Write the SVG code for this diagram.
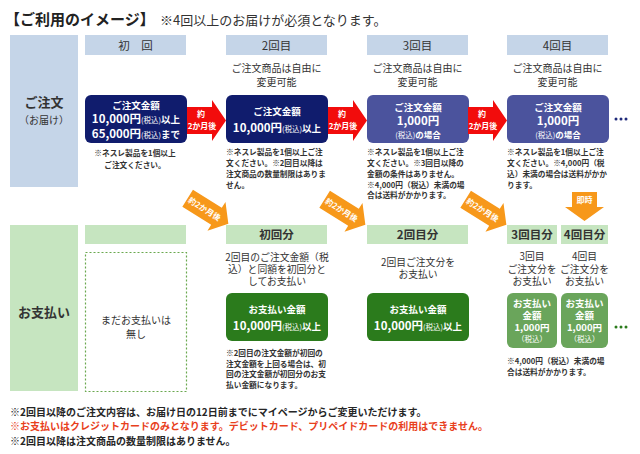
<svg xmlns="http://www.w3.org/2000/svg" xmlns:xlink="http://www.w3.org/1999/xlink" width="640" height="454" viewBox="0 0 640 454">
<style>
text{font-family:"Noto Sans CJK JP","Noto Sans",sans-serif;}
.hb{fill:#c5d5e8;}
.hg{fill:#c6e5c0;}
.ht{font-size:11.5px;fill:#333;text-anchor:middle;}
.hgt{font-size:11.5px;fill:#333;text-anchor:middle;font-weight:bold;}
.lab{font-size:13px;fill:#333;text-anchor:middle;font-weight:bold;}
.sub{font-size:10px;fill:#333;text-anchor:middle;}
.bt{fill:#fff;text-anchor:middle;font-weight:bold;font-size:9.5px;}
.big{font-size:11.5px;}
.sm{font-size:7.5px;font-weight:normal;}
.note{font-size:7.7px;fill:#333;font-weight:bold;}
.nc{text-anchor:middle;}
.desc{font-size:9.8px;fill:#333;text-anchor:middle;}
.ra{fill:#f20c0c;}
.oa{fill:#f7981a;}
.at{fill:#fff;font-size:8px;font-weight:bold;text-anchor:middle;}
.navy{fill:#101c6d;}
.blue{fill:#4b539d;}
.dg{fill:#2b7b1c;}
.lg{fill:#6aa55b;}
.foot{font-size:10px;font-weight:bold;fill:#262626;}
</style>
<defs>
<g id="oarrow">
<path d="M-24,-10 H10 V-17 L24,0 L10,17 V10 H-24 Z" class="oa"/>
<text x="-4" y="3" class="at">約2か月後</text>
</g>
</defs>
<rect width="640" height="454" fill="#fff"/>

<g id="title">
<text x="5" y="25" font-size="15" font-weight="bold" fill="#222">【ご利用のイメージ】</text>
<text x="160" y="25" font-size="13" fill="#333">※4回以上のお届けが必須となります。</text>
</g>

<g id="label-order">
<rect x="10" y="35" width="68" height="152" class="hb"/>
<text x="44" y="107" class="lab">ご注文</text>
<text x="44" y="124" class="sub" font-size="9">（お届け）</text>
</g>
<g id="label-pay">
<rect x="10" y="225" width="68" height="166" class="hg"/>
<text x="44" y="317" class="lab">お支払い</text>
</g>

<g id="head-1"><rect x="85" y="35" width="101" height="20" class="hb"/><text x="135.5" y="50" class="ht">初　回</text></g>
<g id="head-2"><rect x="226" y="35" width="101" height="20" class="hb"/><text x="276.5" y="50" class="ht">2回目</text></g>
<g id="head-3"><rect x="367" y="35" width="101" height="20" class="hb"/><text x="417.5" y="50" class="ht">3回目</text></g>
<g id="head-4"><rect x="507" y="35" width="101" height="20" class="hb"/><text x="557.5" y="50" class="ht">4回目</text></g>

<g id="free-2"><text x="276.5" y="72" class="sub">ご注文商品は自由に</text><text x="276.5" y="86" class="sub">変更可能</text></g>
<g id="free-3"><text x="417.5" y="72" class="sub">ご注文商品は自由に</text><text x="417.5" y="86" class="sub">変更可能</text></g>
<g id="free-4"><text x="557.5" y="72" class="sub">ご注文商品は自由に</text><text x="557.5" y="86" class="sub">変更可能</text></g>

<g id="order-1">
<rect x="85" y="95" width="102" height="48" rx="6" class="navy"/>
<text x="136" y="108.5" class="bt">ご注文金額</text>
<text x="136" y="123" class="bt"><tspan class="big">10,000円</tspan><tspan class="sm">(税込)</tspan>以上</text>
<text x="136" y="137.5" class="bt"><tspan class="big">65,000円</tspan><tspan class="sm">(税込)</tspan>まで</text>
</g>
<g id="order-2">
<rect x="226" y="95" width="102" height="48" rx="6" class="navy"/>
<text x="277" y="115" class="bt">ご注文金額</text>
<text x="277" y="132" class="bt"><tspan class="big">10,000円</tspan><tspan class="sm">(税込)</tspan>以上</text>
</g>
<g id="order-3">
<rect x="367" y="95" width="102" height="48" rx="6" class="blue"/>
<text x="418" y="110.5" class="bt">ご注文金額</text>
<text x="418" y="125" class="bt big">1,000円</text>
<text x="418" y="138" class="bt"><tspan class="sm">(税込)</tspan><tspan font-size="8.5">の場合</tspan></text>
</g>
<g id="order-4">
<rect x="507" y="95" width="102" height="48" rx="6" class="blue"/>
<text x="558" y="110.5" class="bt">ご注文金額</text>
<text x="558" y="125" class="bt big">1,000円</text>
<text x="558" y="138" class="bt"><tspan class="sm">(税込)</tspan><tspan font-size="8.5">の場合</tspan></text>
</g>
<g id="more-order" fill="#1f2a7a"><circle cx="616" cy="119" r="1.5"/><circle cx="621" cy="119" r="1.5"/><circle cx="626" cy="119" r="1.5"/></g>

<g id="note-1" class="note">
<text x="135" y="156" class="nc">※ネスレ製品を1個以上</text>
<text x="135" y="168" class="nc">ご注文ください。</text>
</g>
<g id="note-2" class="note">
<text x="226" y="155">※ネスレ製品を1個以上ご注</text>
<text x="226" y="166">文ください。※2回目以降は</text>
<text x="226" y="177">注文商品の数量制限はありま</text>
<text x="226" y="188">せん。</text>
</g>
<g id="note-3" class="note">
<text x="367" y="155">※ネスレ製品を1個以上ご注</text>
<text x="367" y="166">文ください。※3回目以降の</text>
<text x="367" y="177">金額の条件はありません。</text>
<text x="367" y="188">※4,000円（税込）未満の場</text>
<text x="367" y="198">合は送料がかかります。</text>
</g>
<g id="note-4" class="note">
<text x="507" y="155">※ネスレ製品を1個以上ご注</text>
<text x="507" y="166">文ください。※4,000円（税</text>
<text x="507" y="177">込）未満の場合は送料がかか</text>
<text x="507" y="188">ります。</text>
</g>

<g id="connectors">
<g><path d="M187,107 H212 V100 L226,120.5 L212,141 V134 H187 Z" class="ra"/><text x="201" y="117" class="at">約</text><text x="202" y="129" class="at">2か月後</text></g>
<g><path d="M328,107 H353 V100 L367,120.5 L353,141 V134 H328 Z" class="ra"/><text x="342" y="117" class="at">約</text><text x="343" y="129" class="at">2か月後</text></g>
<g><path d="M468,107 H493 V100 L507,120.5 L493,141 V134 H468 Z" class="ra"/><text x="482" y="117" class="at">約</text><text x="483" y="129" class="at">2か月後</text></g>
<use xlink:href="#oarrow" transform="translate(208,211) rotate(32)"/>
<use xlink:href="#oarrow" transform="translate(345,212) rotate(32)"/>
<use xlink:href="#oarrow" transform="translate(486,212) rotate(32)"/>
<g><path d="M572,192 H597 V207 H604 L584.5,221 L565,207 H572 Z" class="oa"/><text x="584.5" y="203" class="at">即時</text></g>
</g>

<g id="pay-0">
<rect x="85" y="225" width="101" height="19" class="hg"/>
<rect x="85.5" y="252.5" width="101" height="139" fill="none" stroke="#6aa84f" stroke-width="1.2" stroke-dasharray="2,2"/>
<text x="136" y="324" class="sub">まだお支払いは</text>
<text x="136" y="338" class="sub">無し</text>
</g>
<g id="pay-1">
<rect x="226" y="225" width="101" height="19" class="hg"/>
<text x="276.5" y="239" class="hgt">初回分</text>
<text x="277" y="261" class="desc">2回目のご注文金額（税</text>
<text x="277" y="273" class="desc">込）と同額を初回分と</text>
<text x="277" y="285" class="desc">してお支払い</text>
<rect x="226" y="293" width="102" height="48" rx="6" class="dg"/>
<text x="277" y="312.5" class="bt" font-size="10">お支払い金額</text>
<text x="277" y="330" class="bt"><tspan class="big">10,000円</tspan><tspan class="sm">(税込)</tspan>以上</text>
</g>
<g id="pay-2">
<rect x="367" y="225" width="101" height="19" class="hg"/>
<text x="417.5" y="239" class="hgt">2回目分</text>
<text x="418" y="266" class="desc">2回目ご注文分を</text>
<text x="418" y="278" class="desc">お支払い</text>
<rect x="367" y="293" width="102" height="48" rx="6" class="dg"/>
<text x="418" y="312.5" class="bt" font-size="10">お支払い金額</text>
<text x="418" y="330" class="bt"><tspan class="big">10,000円</tspan><tspan class="sm">(税込)</tspan>以上</text>
</g>
<g id="pay-3">
<rect x="507" y="225" width="50" height="19" class="hg"/>
<text x="532" y="239" class="hgt" font-size="11">3回目分</text>
<text x="532" y="260" class="desc">3回目</text>
<text x="532" y="273" class="desc">ご注文分を</text>
<text x="532" y="285" class="desc">お支払い</text>
<rect x="507" y="293" width="50" height="55" rx="6" class="lg"/>
<text x="532" y="307" class="bt">お支払い</text>
<text x="532" y="319" class="bt">金額</text>
<text x="532" y="331" class="bt" font-size="10">1,000円</text>
<text x="532" y="342" class="bt sm">（税込）</text>
</g>
<g id="pay-4">
<rect x="561" y="225" width="47" height="19" class="hg"/>
<text x="584.5" y="239" class="hgt" font-size="11">4回目分</text>
<text x="584.5" y="260" class="desc">4回目</text>
<text x="584.5" y="273" class="desc">ご注文分を</text>
<text x="584.5" y="285" class="desc">お支払い</text>
<rect x="561" y="293" width="47" height="55" rx="6" class="lg"/>
<text x="584.5" y="307" class="bt">お支払い</text>
<text x="584.5" y="319" class="bt">金額</text>
<text x="584.5" y="331" class="bt" font-size="10">1,000円</text>
<text x="584.5" y="342" class="bt sm">（税込）</text>
</g>
<g id="more-pay" fill="#2b7b1c"><circle cx="616" cy="327" r="1.5"/><circle cx="621" cy="327" r="1.5"/><circle cx="626" cy="327" r="1.5"/></g>

<g id="note-pay-1" class="note">
<text x="226" y="356">※2回目の注文金額が初回の</text>
<text x="226" y="366.5">注文金額を上回る場合は、初</text>
<text x="226" y="377">回の注文金額が初回分のお支</text>
<text x="226" y="387.5">払い金額になります。</text>
</g>
<g id="note-pay-3" class="note">
<text x="507" y="364">※4,000円（税込）未満の場</text>
<text x="507" y="374.5">合は送料がかかります。</text>
</g>

<g id="footer">
<text x="10" y="416" class="foot">※2回目以降のご注文内容は、お届け日の12日前までにマイページからご変更いただけます。</text>
<text x="10" y="430" class="foot" style="fill:#e8401c">※お支払いはクレジットカードのみとなります。デビットカード、プリペイドカードの利用はできません。</text>
<text x="10" y="445" class="foot">※2回目以降は注文商品の数量制限はありません。</text>
</g>
</svg>
